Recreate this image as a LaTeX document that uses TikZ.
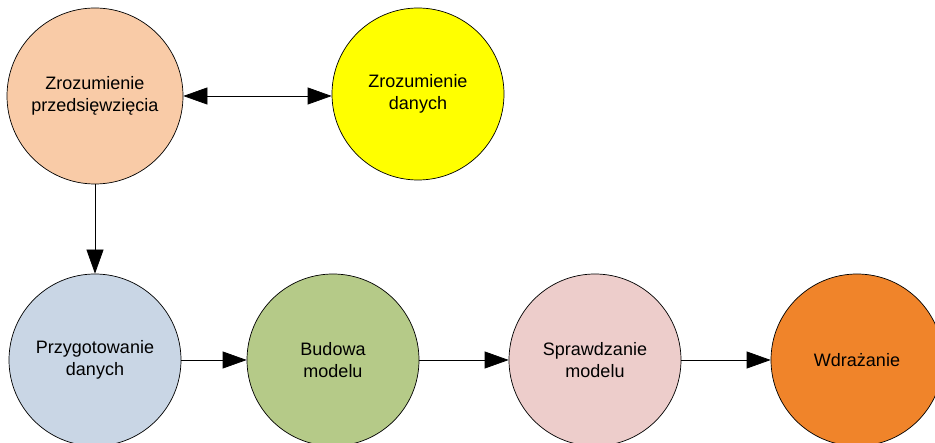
\documentclass[tikz,border=0pt]{standalone}
\usepackage{fontspec}
\setmainfont{Liberation Sans}
\usetikzlibrary{arrows.meta}
\definecolor{peach}{HTML}{F9CBA7}
\definecolor{yel}{HTML}{FFFF00}
\definecolor{lblue}{HTML}{C9D6E5}
\definecolor{lgreen}{HTML}{B5CA88}
\definecolor{lpink}{HTML}{EDCDCB}
\definecolor{dorange}{HTML}{F0842A}
\tikzset{
  phase/.style={circle, draw=black, line width=0.7pt, minimum size=172pt, inner sep=0pt,
    align=center, font=\fontsize{18}{21.5}\selectfont},
  tip/.tip={Triangle[length=24pt,width=17pt]},
  conn/.style={draw=black, line width=0.7pt, -tip},
}
\begin{document}
\begin{tikzpicture}[x=1pt,y=-1pt]
\useasboundingbox (0,0) rectangle (935,443);
\clip (0,0) rectangle (935,443);
\node[phase, fill=peach, minimum size=176pt] (a) at (95,96) {Zrozumienie\\przedsięwzięcia};
\node[phase, fill=yel] (b) at (418,94) {Zrozumienie\\danych};
\node[phase, fill=lblue] (c) at (95,360) {Przygotowanie\\danych};
\node[phase, fill=lgreen] (d) at (333,360) {Budowa\\modelu};
\node[phase, fill=lpink] (e) at (595,360) {Sprawdzanie\\modelu};
\node[phase, fill=dorange] (f) at (857,360) {Wdrażanie};
\draw[conn, tip-tip] (a.east) -- (a.east -| b.west);
\draw[conn] (a) -- (c);
\draw[conn] (c) -- (d);
\draw[conn] (d) -- (e);
\draw[conn] (e) -- (f);
\end{tikzpicture}
\end{document}
